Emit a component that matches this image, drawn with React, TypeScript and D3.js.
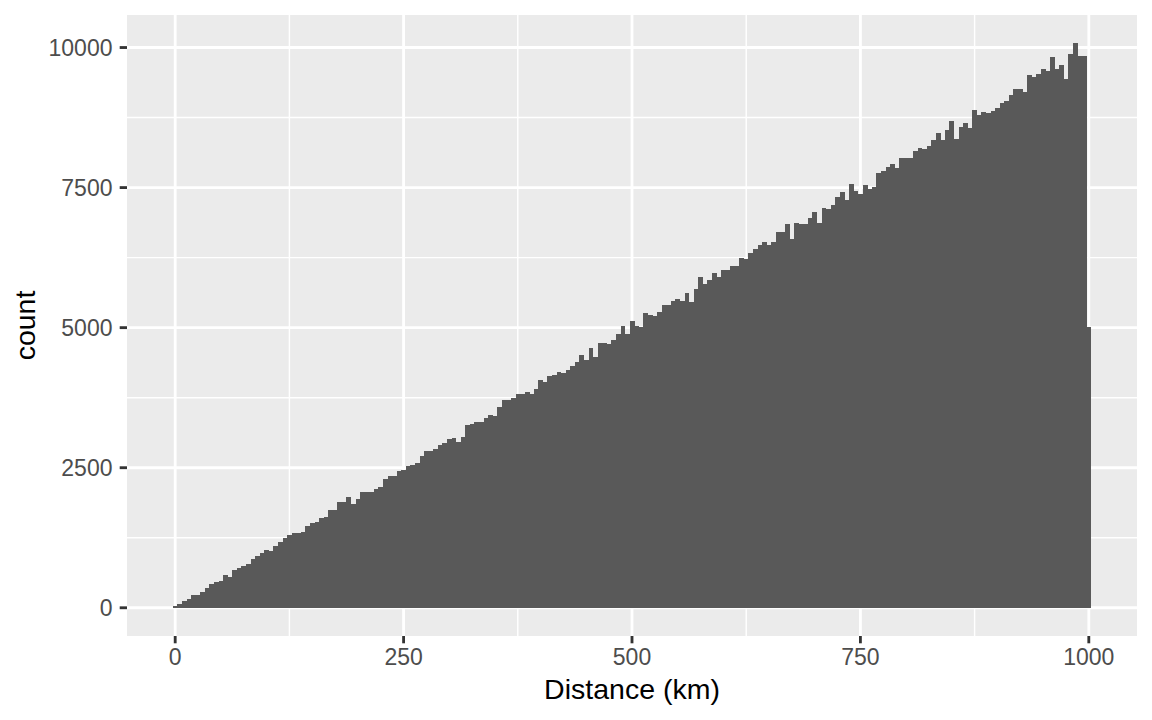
import React from 'react';
import * as d3 from 'd3';

// histogram of distances, bins of 5 km centred on 0, 5, 10, ... 1000
const binWidth = 5;
const counts = [
  25, 59, 112, 148, 220, 232, 286, 345, 416, 452,
  470, 577, 541, 666, 702, 737, 773, 862, 916, 970,
  1023, 1005, 1095, 1166, 1238, 1291, 1327, 1327, 1345, 1452,
  1505, 1523, 1595, 1612, 1738, 1738, 1880, 1880, 1970, 1845,
  1934, 2059, 2059, 2059, 2113, 2148, 2291, 2345, 2345, 2434,
  2452, 2523, 2541, 2577, 2702, 2791, 2791, 2827, 2898, 2934,
  3005, 3023, 2952, 3041, 3255, 3273, 3309, 3309, 3380, 3434,
  3416, 3577, 3702, 3702, 3738, 3809, 3809, 3845, 3809, 3898,
  4059, 4023, 4130, 4148, 4202, 4184, 4238, 4309, 4380, 4505,
  4416, 4630, 4470, 4720, 4720, 4702, 4773, 4880, 5023, 4880,
  5113, 5023, 5005, 5255, 5220, 5202, 5273, 5398, 5398, 5470,
  5505, 5470, 5613, 5452, 5684, 5898, 5773, 5845, 5970, 5898,
  6023, 6023, 6095, 6095, 6238, 6220, 6327, 6398, 6470, 6523,
  6470, 6523, 6702, 6702, 6845, 6577, 6863, 6845, 6845, 6952,
  7059, 6863, 7130, 7113, 7184, 7327, 7416, 7273, 7559, 7434,
  7380, 7541, 7470, 7505, 7755, 7791, 7863, 7916, 7845, 8023,
  8023, 8023, 8148, 8202, 8184, 8238, 8345, 8470, 8345, 8523,
  8684, 8363, 8577, 8648, 8559, 8880, 8791, 8845, 8827, 8863,
  8916, 9005, 9041, 9148, 9255, 9255, 9202, 9505, 9470, 9523,
  9613, 9577, 9827, 9613, 9684, 9434, 9880, 10077, 9845, 9845,
  5005,
];
const xTicks = [0, 250, 500, 750, 1000];
const xMinor = [125, 375, 625, 875];
const yTicks = [0, 2500, 5000, 7500, 10000];
const yMinor = [1250, 3750, 6250, 8750];

const W = 1152;
const H = 720;
const panel = { left: 127, right: 1137, top: 15, bottom: 636 };
const font = '"Liberation Sans", Arial, Helvetica, sans-serif';

export default function App() {
  const bins = counts.map((c, i) => ({ x0: i * binWidth - binWidth / 2, x1: i * binWidth + binWidth / 2, count: c }));
  const xMin = d3.min(bins, d => d.x0)!;
  const xMax = d3.max(bins, d => d.x1)!;
  const xPad = (xMax - xMin) * 0.05;
  const yMax = d3.max(counts)!;

  const x = d3.scaleLinear().domain([xMin - xPad, xMax + xPad]).range([panel.left, panel.right]);
  const y = d3.scaleLinear().domain([-yMax * 0.05, yMax * 1.05]).range([panel.bottom, panel.top]);

  return (
    <svg width={W} height={H} style={{ position: 'absolute', left: 0, top: 0, background: '#fff' }}>
      <rect x={panel.left} y={panel.top} width={panel.right - panel.left} height={panel.bottom - panel.top} fill="#EBEBEB" />
      {/* grid */}
      <g stroke="#fff">
        {yMinor.map(v => <line key={'ym' + v} x1={panel.left} x2={panel.right} y1={y(v)} y2={y(v)} strokeWidth={1.42} />)}
        {xMinor.map(v => <line key={'xm' + v} y1={panel.top} y2={panel.bottom} x1={x(v)} x2={x(v)} strokeWidth={1.42} />)}
        {yTicks.map(v => <line key={'y' + v} x1={panel.left} x2={panel.right} y1={y(v)} y2={y(v)} strokeWidth={2.84} />)}
        {xTicks.map(v => <line key={'x' + v} y1={panel.top} y2={panel.bottom} x1={x(v)} x2={x(v)} strokeWidth={2.84} />)}
      </g>
      {/* bars */}
      <g fill="#595959" shapeRendering="crispEdges">
        {bins.map((b, i) => (
          <rect key={i} x={x(b.x0)} width={x(b.x1) - x(b.x0) + 0.3} y={y(b.count)} height={y(0) - y(b.count)} />
        ))}
      </g>
      {/* axes */}
      <g stroke="#333333" strokeWidth={2.84}>
        {yTicks.map(v => <line key={'yt' + v} x1={panel.left - 7.3} x2={panel.left} y1={y(v)} y2={y(v)} />)}
        {xTicks.map(v => <line key={'xt' + v} x1={x(v)} x2={x(v)} y1={panel.bottom} y2={panel.bottom + 7.3} />)}
      </g>
      <g fill="#4D4D4D" fontFamily={font} fontSize={23}>
        {yTicks.map(v => (
          <text key={'yl' + v} x={panel.left - 14.5} y={y(v)} dy="0.36em" textAnchor="end">{v}</text>
        ))}
        {xTicks.map(v => (
          <text key={'xl' + v} x={x(v)} y={panel.bottom + 12} dy="0.72em" textAnchor="middle">{v}</text>
        ))}
      </g>
      <text x={(panel.left + panel.right) / 2} y={698.5} textAnchor="middle" fontFamily={font} fontSize={28.5} fill="#000">
        Distance (km)
      </text>
      <text transform={`translate(35,${(panel.top + panel.bottom) / 2}) rotate(-90)`} textAnchor="middle" fontFamily={font} fontSize={28.5} fill="#000">
        count
      </text>
    </svg>
  );
}
